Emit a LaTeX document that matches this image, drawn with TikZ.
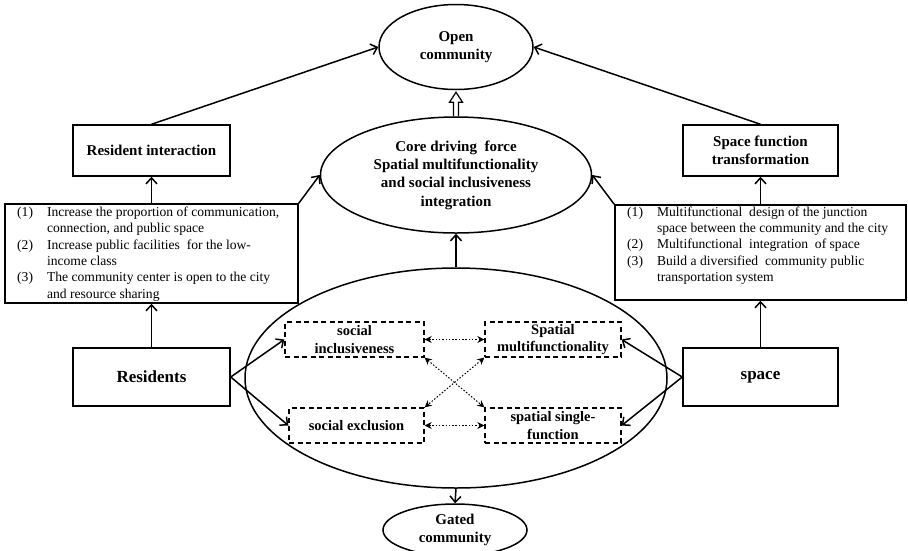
\documentclass[tikz,border=0pt]{standalone}
\usepackage{fontspec}
\setmainfont{Liberation Serif}
\usetikzlibrary{shapes.geometric,arrows.meta}
\tikzset{
  lw/.style={line width=1.5pt},
  rbox/.style={draw,lw,rectangle,inner sep=0pt,align=center},
  ell/.style={draw,lw,ellipse,inner sep=0pt,align=center},
  dbox/.style={draw,line width=1.3pt,dash pattern=on 5pt off 3.5pt,rectangle,inner sep=0pt,align=center,
     minimum height=35pt,font=\fontsize{14.5}{17.5}\selectfont\bfseries},
  hd/.style={font=\fontsize{15}{18.3}\selectfont\bfseries},
  big/.style={font=\fontsize{17}{20}\selectfont\bfseries},
  arr/.style={lw,-{Straight Barb[length=6pt,width=11pt]}},
  dotarr/.style={line width=1pt,dash pattern=on 1.5pt off 1.8pt,{Stealth[length=7pt,width=7pt]}-{Stealth[length=7pt,width=7pt]}},
  listtxt/.style={anchor=north west,inner sep=0pt,font=\fontsize{13.6}{16.3}\selectfont}
}
\begin{document}
\begin{tikzpicture}[x=1pt,y=-1pt]
\useasboundingbox (0,0) rectangle (908,550);
% ellipses
\node[ell,hd,minimum width=154pt,minimum height=85pt] (open) at (456,47) {Open\\community};
\node[ell,hd,minimum width=271pt,minimum height=116pt] (core) at (456,175) {Core driving\ \ force\\Spatial multifunctionality\\and social inclusiveness\\integration};
\node[ell,minimum width=422pt,minimum height=220pt] (bigell) at (456,378) {};
\node[ell,hd,minimum width=144pt,minimum height=52pt] (gated) at (455,530) {Gated\\community};
% boxes
\node[rbox,hd,minimum width=157pt,minimum height=51pt] (ri) at (151.5,150.5) {Resident interaction};
\node[rbox,hd,minimum width=155pt,minimum height=51pt] (sft) at (760.5,150.5) {Space function\\transformation};
\node[rbox,minimum width=293pt,minimum height=99pt] (ll) at (151.5,253.5) {};
\node[rbox,minimum width=291pt,minimum height=95pt] (rl) at (760.5,252.5) {};
\node[rbox,big,minimum width=157pt,minimum height=58pt] (res) at (151.5,377) {Residents};
\node[rbox,big,minimum width=155pt,minimum height=58pt] (spc) at (760.5,377) {space};
% list texts
\node[listtxt] (lltext) at (17,205) {\begin{tabular}{@{}l@{\hspace{14pt}}l@{}}
(1) & Increase the proportion of communication,\\
    & connection, and public space\\
(2) & Increase public facilities\ \ for the low-\\
    & income class\\
(3) & The community center is open to the city\\
    & and resource sharing
\end{tabular}};
\node[listtxt] (rltext) at (627,204.5) {\begin{tabular}{@{}l@{\hspace{14pt}}l@{}}
(1) & Multifunctional\ \ design of the junction\\
    & space between the community and the city\\
(2) & Multifunctional\ \ integration\ \ of space\\
(3) & Build a diversified\ \ community public\\
    & transportation system
\end{tabular}};
% dashed boxes
\node[dbox,minimum width=139pt] (si) at (354.5,339.5) {social\\inclusiveness};
\node[dbox,minimum width=136pt] (sm) at (553,339.5) {Spatial\\multifunctionality};
\node[dbox,minimum width=135pt] (se) at (356.5,425.5) {social exclusion};
\node[dbox,minimum width=136pt] (ss) at (553,425.5) {spatial single-\\function};
% connectors
\draw[arr] (ri.north) -- (open.west);
\draw[arr] (sft.north) -- (open.east);
\draw[arr] (ll.north) -- (ri.south);
\draw[arr] (rl.north) -- (sft.south);
\draw[arr] (ll.north east) -- (core.west);
\draw[arr] (rl.north west) -- (core.east);
\draw[arr] (res.north) -- (ll.south);
\draw[arr] (spc.north) -- (rl.south);
\draw[arr] (bigell.north) -- (core.south);
\draw[arr] (bigell.south) -- (gated.north);
\draw[arr] (res.east) -- (si.west);
\draw[arr] (res.east) -- (se.west);
\draw[arr] (spc.west) -- (sm.east);
\draw[arr] (spc.west) -- (ss.east);
% hollow double arrow core -> open
\draw[line width=1.2pt,line join=miter]
  ([xshift=-2.5pt]core.north) -- ([xshift=-2.5pt,yshift=-12pt]open.south)
  -- ([xshift=-6.5pt,yshift=-12pt]open.south) -- ([yshift=-2pt]open.south)
  -- ([xshift=6.5pt,yshift=-12pt]open.south) -- ([xshift=2.5pt,yshift=-12pt]open.south)
  -- ([xshift=2.5pt]core.north);
% dotted relations
\draw[dotarr] (si.east) -- (sm.west);
\draw[dotarr] (se.east) -- (ss.west);
\draw[dotarr] (si.south east) -- (ss.north west);
\draw[dotarr] (sm.south west) -- (se.north east);
\end{tikzpicture}
\end{document}
